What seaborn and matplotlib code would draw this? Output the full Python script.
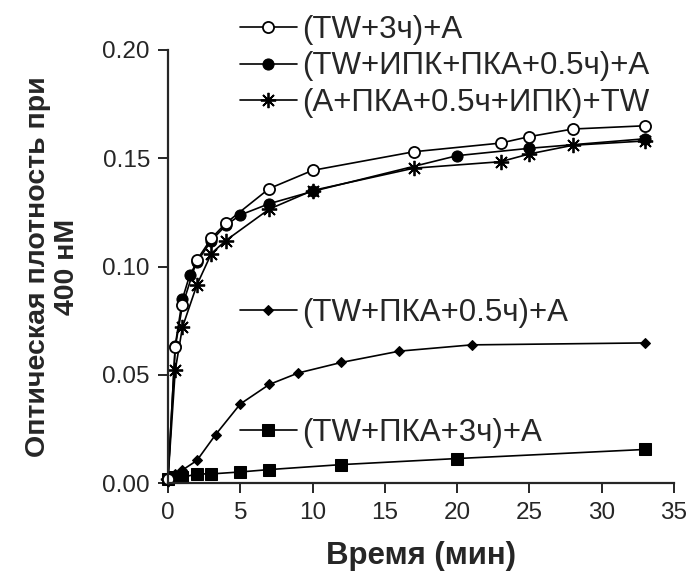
import matplotlib
matplotlib.use("Agg")
import matplotlib.pyplot as plt
import seaborn as sns
import pandas as pd
from matplotlib.ticker import FormatStrFormatter

# ---- data ----
labels = ["(TW+3ч)+A", "(TW+ИПК+ПКА+0.5ч)+A", "(A+ПКА+0.5ч+ИПК)+TW",
          "(TW+ПКА+0.5ч)+A", "(TW+ПКА+3ч)+A"]

t_open = [0, 0.5, 1, 2, 3, 4, 7, 10, 17, 23, 25, 28, 33]
v_open = [0.002, 0.0628, 0.082, 0.103, 0.113, 0.120, 0.136, 0.1444, 0.153, 0.157, 0.160, 0.1635, 0.165]

t_filled = [0, 0.5, 1, 1.5, 2, 3, 4, 5, 7, 10, 20, 25, 33]
v_filled = [0.002, 0.0635, 0.085, 0.096, 0.102, 0.112, 0.119, 0.1238, 0.129, 0.1347, 0.1512, 0.1546, 0.159]

t_star = [0, 0.5, 1, 2, 3, 4, 7, 10, 17, 23, 25, 28, 33]
v_star = [0.002, 0.052, 0.072, 0.0915, 0.106, 0.112, 0.1265, 0.1351, 0.1454, 0.1484, 0.152, 0.156, 0.158]

t_diam = [0, 0.5, 1, 2, 3.3, 5, 7, 9, 12, 16, 21, 33]
v_diam = [0.002, 0.004, 0.006, 0.0104, 0.0224, 0.0365, 0.0455, 0.0508, 0.0557, 0.0609, 0.0638, 0.0647]

t_sq = [0, 0.5, 1, 2, 3, 5, 7, 12, 20, 33]
v_sq = [0.002, 0.003, 0.0026, 0.0042, 0.0042, 0.0051, 0.0062, 0.0085, 0.0113, 0.0155]

x_ticks = [0, 5, 10, 15, 20, 25, 30, 35]
y_ticks = [0.00, 0.05, 0.10, 0.15, 0.20]

sns.set_style("ticks")
plt.rcParams['font.family'] = ['Liberation Sans', 'DejaVu Sans']

fig = plt.figure(figsize=(6.92, 5.75), dpi=100)
ax = fig.add_axes([168/692, (575-483)/575, (674-168)/692, (483-50)/575])

def frame(t, v, lab):
    return pd.DataFrame({"t": t, "v": v, "s": lab})

common = dict(x="t", y="v", ax=ax, color="black", linewidth=1.2,
              estimator=None, sort=False, clip_on=False, markeredgecolor="black")

sns.lineplot(data=frame(t_sq, v_sq, labels[4]), marker="s", markersize=8,
             markerfacecolor="black", label=labels[4], **common)
sns.lineplot(data=frame(t_diam, v_diam, labels[3]), marker="D", markersize=5.5,
             markerfacecolor="black", label=labels[3], **common)
sns.lineplot(data=frame(t_filled, v_filled, labels[1]), marker="o", markersize=8,
             markerfacecolor="black", label=labels[1], **common)
sns.lineplot(data=frame(t_star, v_star, labels[2]), marker=(8, 2, 0), markersize=11,
             markeredgewidth=1.3, label=labels[2], **common)
sns.lineplot(data=frame(t_open, v_open, labels[0]), marker="o", markersize=8,
             markerfacecolor="white", markeredgewidth=1.3, label=labels[0], **common)

handles, labs = ax.get_legend_handles_labels()
hmap = dict(zip(labs, handles))

legfs = 22.5
legkw = dict(frameon=False, fontsize=legfs, handlelength=41/legfs, handletextpad=0.18,
             borderpad=0, borderaxespad=0, loc="center left", numpoints=1)
leg1 = ax.legend(handles=[hmap[labels[0]], hmap[labels[1]], hmap[labels[2]]],
                 labels=labels[:3], bbox_to_anchor=(0.1423, 0.962),
                 labelspacing=0.22, **legkw)
ax.add_artist(leg1)
leg2 = ax.legend(handles=[hmap[labels[3]]], labels=[labels[3]],
                 bbox_to_anchor=(0.1423, 0.392), **legkw)
ax.add_artist(leg2)
leg3 = ax.legend(handles=[hmap[labels[4]]], labels=[labels[4]],
                 bbox_to_anchor=(0.1423, 0.116), **legkw)

ax.set_xlim(0, 35)
ax.set_ylim(0, 0.20)
ax.set_xticks(x_ticks)
ax.set_yticks(y_ticks)
ax.yaxis.set_major_formatter(FormatStrFormatter("%.2f"))
sns.despine(ax=ax)
for sp in ("left", "bottom"):
    ax.spines[sp].set_linewidth(1.6)
ax.tick_params(axis="both", direction="out", length=7, width=1.4, labelsize=17.5)
ax.tick_params(axis="x", pad=7)
ax.tick_params(axis="y", pad=6)

ax.set_xlabel("Время (мин)", fontsize=22.5, fontweight="bold", labelpad=12)
ax.set_ylabel("Оптическая плотность при\n400 нМ", fontsize=20.5, fontweight="bold",
              labelpad=16, linespacing=1.15)

fig.savefig("out.png", dpi=100)
